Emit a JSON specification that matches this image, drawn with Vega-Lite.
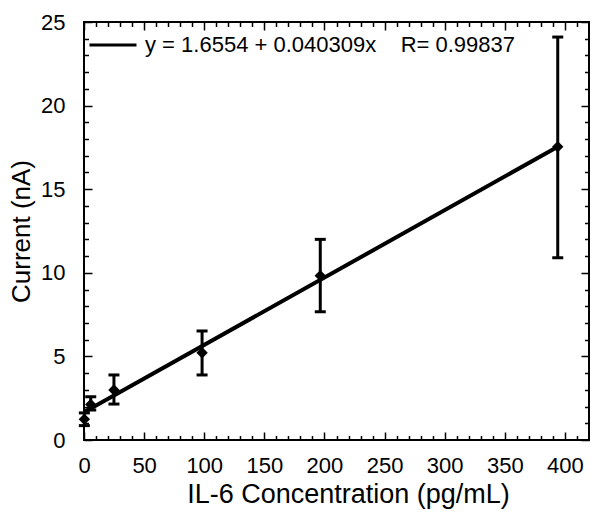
{
  "$schema": "https://vega.github.io/schema/vega-lite/v6.json",
  "width": 505,
  "height": 418,
  "autosize": {"type": "none"},
  "padding": {"left": 84, "top": 22, "right": 12, "bottom": 83},
  "background": "white",
  "config": {
    "font": "Liberation Sans",
    "view": {"stroke": "black", "strokeWidth": 2},
    "axis": {"grid": false, "domain": false, "labelColor": "black", "titleColor": "black", "tickColor": "black", "titleFontWeight": "normal", "labelOverlap": false, "labelFlush": false}
  },
  "datasets": {
    "pts": [
      {"conc": 0.3, "current": 1.24, "lo": 0.86, "hi": 1.62},
      {"conc": 5.6, "current": 2.13, "lo": 1.79, "hi": 2.59},
      {"conc": 24.9, "current": 2.99, "lo": 2.15, "hi": 3.89},
      {"conc": 98.2, "current": 5.22, "lo": 3.89, "hi": 6.52},
      {"conc": 196.5, "current": 9.83, "lo": 7.67, "hi": 12.0},
      {"conc": 394, "current": 17.54, "lo": 10.9, "hi": 24.1}
    ],
    "fit": [
      {"conc": 0, "current": 1.6554, "label": "y = 1.6554 + 0.040309x\u00a0\u00a0\u00a0\u00a0R= 0.99837"},
      {"conc": 394, "current": 17.537, "label": "y = 1.6554 + 0.040309x\u00a0\u00a0\u00a0\u00a0R= 0.99837"}
    ]
  },
  "layer": [
    {
      "data": {"name": "fit"},
      "mark": {"type": "line", "strokeWidth": 4},
      "encoding": {
        "x": {"field": "conc", "type": "quantitative", "scale": {"domain": [0, 420], "nice": false, "zero": false},
          "axis": {"orient": "bottom", "values": [0, 50, 100, 150, 200, 250, 300, 350, 400], "ticks": false, "labelPadding": 15, "labelFontSize": 22, "title": "IL-6 Concentration (pg/mL)", "titleFontSize": 27, "titlePadding": 5, "titleX": 264}},
        "y": {"field": "current", "type": "quantitative", "scale": {"domain": [0, 25], "nice": false},
          "axis": {"orient": "left", "values": [0, 5, 10, 15, 20, 25], "ticks": false, "labelPadding": 19, "labelFontSize": 22, "title": "Current (nA)", "titleFontSize": 26, "titlePadding": 6}},
        "color": {"field": "label", "type": "nominal", "scale": {"range": ["black"]},
          "legend": {"orient": "none", "legendX": 4, "legendY": -2, "title": null, "symbolType": "stroke", "symbolSize": 2209, "symbolStrokeWidth": 3, "symbolStrokeColor": "black", "labelFontSize": 22, "labelColor": "black", "labelOffset": 7, "labelLimit": 0, "padding": 0}}
      }
    },
    {
      "data": {"name": "pts"},
      "mark": {"type": "rule", "strokeWidth": 3, "color": "black"},
      "encoding": {
        "x": {"field": "conc", "type": "quantitative", "scale": {"domain": [0, 420], "nice": false, "zero": false},
          "axis": {"orient": "bottom", "values": [0, 50, 100, 150, 200, 250, 300, 350, 400], "labels": false, "tickSize": -8, "tickWidth": 1.5, "title": null}},
        "y": {"field": "lo", "type": "quantitative", "scale": {"domain": [0, 25], "nice": false},
          "axis": {"orient": "left", "values": [0, 5, 10, 15, 20, 25], "labels": false, "tickSize": -8, "tickWidth": 1.5, "title": null}},
        "y2": {"field": "hi"}
      }
    },
    {
      "data": {"name": "pts"},
      "mark": {"type": "tick", "orient": "horizontal", "size": 11, "thickness": 3, "color": "black", "opacity": 1},
      "encoding": {
        "x": {"field": "conc", "type": "quantitative", "scale": {"domain": [0, 420], "nice": false, "zero": false},
          "axis": {"orient": "bottom", "values": [10, 20, 30, 40, 60, 70, 80, 90, 110, 120, 130, 140, 160, 170, 180, 190, 210, 220, 230, 240, 260, 270, 280, 290, 310, 320, 330, 340, 360, 370, 380, 390, 410], "labels": false, "tickSize": -4.5, "tickWidth": 1.5, "title": null}},
        "y": {"field": "lo", "type": "quantitative", "scale": {"domain": [0, 25], "nice": false},
          "axis": {"orient": "left", "values": [1, 2, 3, 4, 6, 7, 8, 9, 11, 12, 13, 14, 16, 17, 18, 19, 21, 22, 23, 24], "labels": false, "tickSize": -4.5, "tickWidth": 1.5, "title": null}}
      }
    },
    {
      "data": {"name": "pts"},
      "mark": {"type": "tick", "orient": "horizontal", "size": 11, "thickness": 3, "color": "black", "opacity": 1},
      "encoding": {
        "x": {"field": "conc", "type": "quantitative", "scale": {"domain": [0, 420], "nice": false, "zero": false},
          "axis": {"orient": "top", "values": [0, 50, 100, 150, 200, 250, 300, 350, 400], "labels": false, "tickSize": -8, "tickWidth": 1.5, "title": null}},
        "y": {"field": "hi", "type": "quantitative", "scale": {"domain": [0, 25], "nice": false},
          "axis": {"orient": "right", "values": [0, 5, 10, 15, 20, 25], "labels": false, "tickSize": -8, "tickWidth": 1.5, "title": null}}
      }
    },
    {
      "data": {"name": "pts"},
      "mark": {"type": "point", "shape": "diamond", "filled": true, "size": 130, "color": "black", "opacity": 1},
      "encoding": {
        "x": {"field": "conc", "type": "quantitative", "scale": {"domain": [0, 420], "nice": false, "zero": false},
          "axis": {"orient": "top", "values": [10, 20, 30, 40, 60, 70, 80, 90, 110, 120, 130, 140, 160, 170, 180, 190, 210, 220, 230, 240, 260, 270, 280, 290, 310, 320, 330, 340, 360, 370, 380, 390, 410], "labels": false, "tickSize": -4.5, "tickWidth": 1.5, "title": null}},
        "y": {"field": "current", "type": "quantitative", "scale": {"domain": [0, 25], "nice": false},
          "axis": {"orient": "right", "values": [1, 2, 3, 4, 6, 7, 8, 9, 11, 12, 13, 14, 16, 17, 18, 19, 21, 22, 23, 24], "labels": false, "tickSize": -4.5, "tickWidth": 1.5, "title": null}}
      }
    }
  ],
  "resolve": {"axis": {"x": "independent", "y": "independent"}}
}
